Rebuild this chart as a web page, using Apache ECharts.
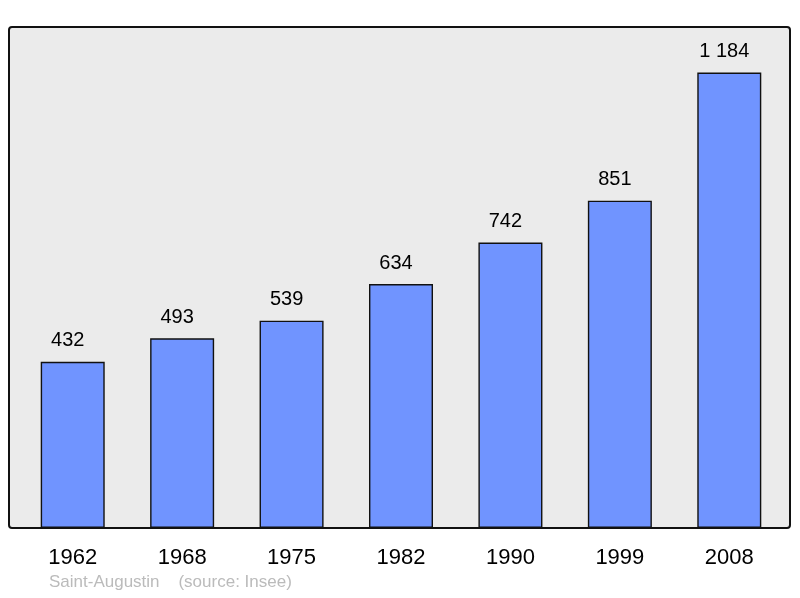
<!DOCTYPE html>
<html>
<head>
<meta charset="utf-8">
<script src="https://cdn.jsdelivr.net/npm/echarts@6/dist/echarts.min.js"></script>
<style>
  html, body { margin: 0; padding: 0; background: #fff; }
  #chart { width: 800px; height: 598px; }
</style>
</head>
<body>
<div id="chart"></div>
<script>
var years = ['1962', '1968', '1975', '1982', '1990', '1999', '2008'];
var population = [432, 493, 539, 634, 742, 851, 1184];
var footer = 'Saint-Augustin    (source: Insee)';

function spaced(n) {
    return String(n).replace(/\B(?=(\d{3})+(?!\d))/g, ' ');
}

var chart = echarts.init(document.getElementById('chart'));
var option = {
    animation: false,
    backgroundColor: '#ffffff',
    textStyle: { fontFamily: 'Liberation Sans, Arial, sans-serif' },
    graphic: [
        {
            type: 'rect',
            z: -10,
            shape: { x: 9, y: 27, width: 781, height: 501, r: 3 },
            style: { fill: '#ebebeb', stroke: '#111', lineWidth: 2 }
        },
        {
            type: 'text',
            left: 49,
            top: 574,
            style: {
                text: footer,
                fill: '#bbbbbb',
                font: '17px "Liberation Sans", Arial, sans-serif'
            }
        }
    ],
    grid: { left: 18, right: 16, top: 27, bottom: 70 },
    xAxis: {
        type: 'category',
        data: years,
        axisLine: { show: false },
        axisTick: { show: false },
        axisLabel: { color: '#000', fontSize: 22, margin: 19 }
    },
    yAxis: {
        type: 'value',
        min: 0,
        max: function (v) { return v.max * 1.1; },
        show: false,
        splitLine: { show: false }
    },
    series: [{
        type: 'bar',
        data: population,
        barWidth: 64,
        itemStyle: { color: '#7094ff', borderColor: '#111', borderWidth: 1.4 },
        label: {
            show: true,
            position: 'top',
            distance: 11,
            offset: [-5, 0],
            color: '#000',
            fontSize: 20,
            formatter: function (p) { return spaced(p.value); }
        }
    }]
};
chart.setOption(option);
</script>
</body>
</html>
